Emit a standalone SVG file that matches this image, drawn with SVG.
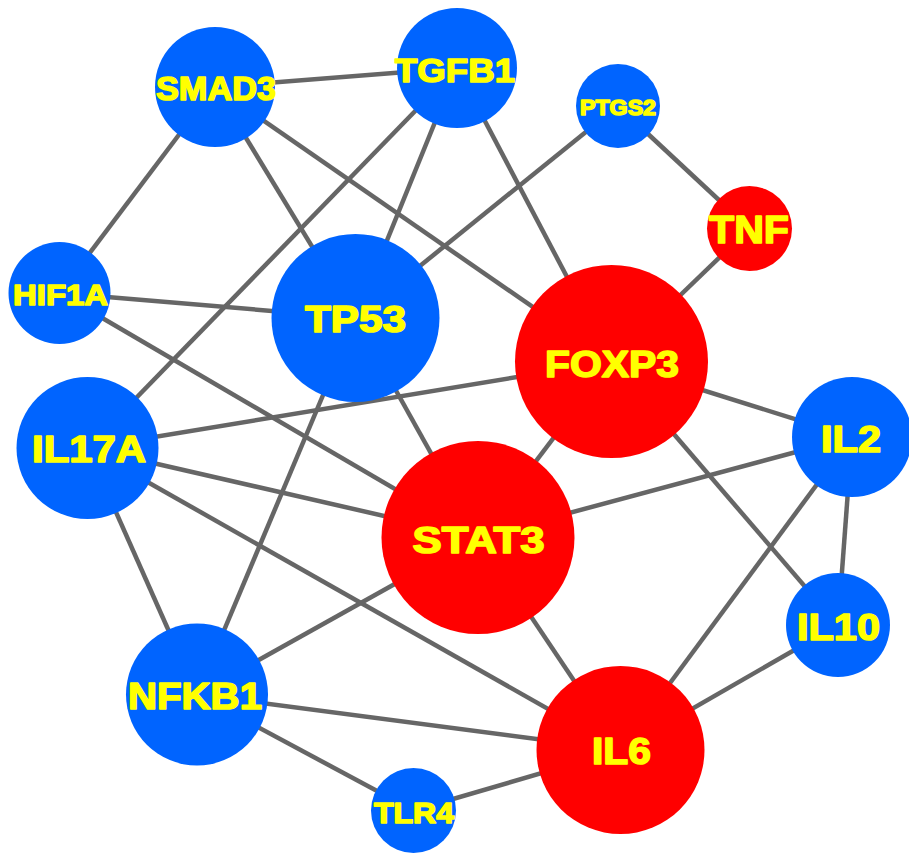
<svg xmlns="http://www.w3.org/2000/svg" width="909" height="853" viewBox="0 0 909 853">
<style>
.e{stroke:#666666;stroke-width:4.5;fill:none}
.b{fill:#0064FF}
.r{fill:#FF0000}
text{font-family:"Liberation Sans",Arial,sans-serif;font-weight:bold;fill:#FFFF00;stroke:#FFFF00;stroke-width:1.6;stroke-linejoin:round;text-anchor:middle}
</style>
<rect width="909" height="853" fill="#FFFFFF"/>
<g id="edges">
<line class="e" x1="215" y1="87" x2="457" y2="68"/>
<line class="e" x1="215" y1="87" x2="59.5" y2="293"/>
<line class="e" x1="215" y1="87" x2="355.5" y2="318"/>
<line class="e" x1="215" y1="87" x2="611.5" y2="361.5"/>
<line class="e" x1="457" y1="68" x2="87.5" y2="448"/>
<line class="e" x1="457" y1="68" x2="355.5" y2="318"/>
<line class="e" x1="457" y1="68" x2="611.5" y2="361.5"/>
<line class="e" x1="618" y1="106" x2="355.5" y2="318"/>
<line class="e" x1="618" y1="106" x2="749.5" y2="228.5"/>
<line class="e" x1="749.5" y1="228.5" x2="611.5" y2="361.5"/>
<line class="e" x1="59.5" y1="293" x2="355.5" y2="318"/>
<line class="e" x1="59.5" y1="293" x2="478" y2="537.5"/>
<line class="e" x1="355.5" y1="318" x2="478" y2="537.5"/>
<line class="e" x1="355.5" y1="318" x2="197" y2="694.5"/>
<line class="e" x1="87.5" y1="448" x2="611.5" y2="361.5"/>
<line class="e" x1="87.5" y1="448" x2="478" y2="537.5"/>
<line class="e" x1="87.5" y1="448" x2="620.5" y2="750"/>
<line class="e" x1="87.5" y1="448" x2="197" y2="694.5"/>
<line class="e" x1="611.5" y1="361.5" x2="852" y2="437"/>
<line class="e" x1="611.5" y1="361.5" x2="478" y2="537.5"/>
<line class="e" x1="611.5" y1="361.5" x2="838" y2="625"/>
<line class="e" x1="478" y1="537.5" x2="852" y2="437"/>
<line class="e" x1="478" y1="537.5" x2="197" y2="694.5"/>
<line class="e" x1="478" y1="537.5" x2="620.5" y2="750"/>
<line class="e" x1="852" y1="437" x2="838" y2="625"/>
<line class="e" x1="852" y1="437" x2="620.5" y2="750"/>
<line class="e" x1="838" y1="625" x2="620.5" y2="750"/>
<line class="e" x1="197" y1="694.5" x2="620.5" y2="750"/>
<line class="e" x1="197" y1="694.5" x2="413.5" y2="810.5"/>
<line class="e" x1="413.5" y1="810.5" x2="620.5" y2="750"/>
</g>
<g id="SMAD3"><circle class="b" cx="215" cy="87" r="60"/><text x="216" y="100" font-size="33" textLength="120" lengthAdjust="spacingAndGlyphs">SMAD3</text></g>
<g id="TGFB1"><circle class="b" cx="457" cy="68" r="60"/><text x="455" y="82" font-size="34" textLength="120" lengthAdjust="spacingAndGlyphs">TGFB1</text></g>
<g id="PTGS2"><circle class="b" cx="618" cy="106" r="42"/><text x="618" y="115" font-size="22" textLength="76" lengthAdjust="spacingAndGlyphs">PTGS2</text></g>
<g id="TNF"><circle class="r" cx="749.5" cy="228.5" r="42.5"/><text x="749" y="243" font-size="38" textLength="80" lengthAdjust="spacingAndGlyphs">TNF</text></g>
<g id="HIF1A"><circle class="b" cx="59.5" cy="293" r="51"/><text x="60.5" y="305" font-size="30" textLength="95" lengthAdjust="spacingAndGlyphs">HIF1A</text></g>
<g id="TP53"><circle class="b" cx="355.5" cy="318" r="84"/><text x="355.5" y="332" font-size="36" textLength="101" lengthAdjust="spacingAndGlyphs">TP53</text></g>
<g id="FOXP3"><circle class="r" cx="611.5" cy="361.5" r="96.5"/><text x="612" y="377" font-size="37" textLength="134" lengthAdjust="spacingAndGlyphs">FOXP3</text></g>
<g id="IL17A"><circle class="b" cx="87.5" cy="448" r="71"/><text x="89" y="462" font-size="36" textLength="114" lengthAdjust="spacingAndGlyphs">IL17A</text></g>
<g id="IL2"><circle class="b" cx="852" cy="437" r="60"/><text x="851" y="452" font-size="37" textLength="60" lengthAdjust="spacingAndGlyphs">IL2</text></g>
<g id="STAT3"><circle class="r" cx="478" cy="537.5" r="96.5"/><text x="478.6" y="553" font-size="36" textLength="132" lengthAdjust="spacingAndGlyphs">STAT3</text></g>
<g id="IL10"><circle class="b" cx="838" cy="625" r="52"/><text x="838.5" y="640" font-size="37" textLength="83" lengthAdjust="spacingAndGlyphs">IL10</text></g>
<g id="NFKB1"><circle class="b" cx="197" cy="694.5" r="71"/><text x="195" y="709" font-size="36" textLength="134" lengthAdjust="spacingAndGlyphs">NFKB1</text></g>
<g id="IL6"><circle class="r" cx="620.5" cy="750" r="84"/><text x="621.5" y="764" font-size="37" textLength="59" lengthAdjust="spacingAndGlyphs">IL6</text></g>
<g id="TLR4"><circle class="b" cx="413.5" cy="810.5" r="42.5"/><text x="414" y="823" font-size="29" textLength="80" lengthAdjust="spacingAndGlyphs">TLR4</text></g>
</svg>
